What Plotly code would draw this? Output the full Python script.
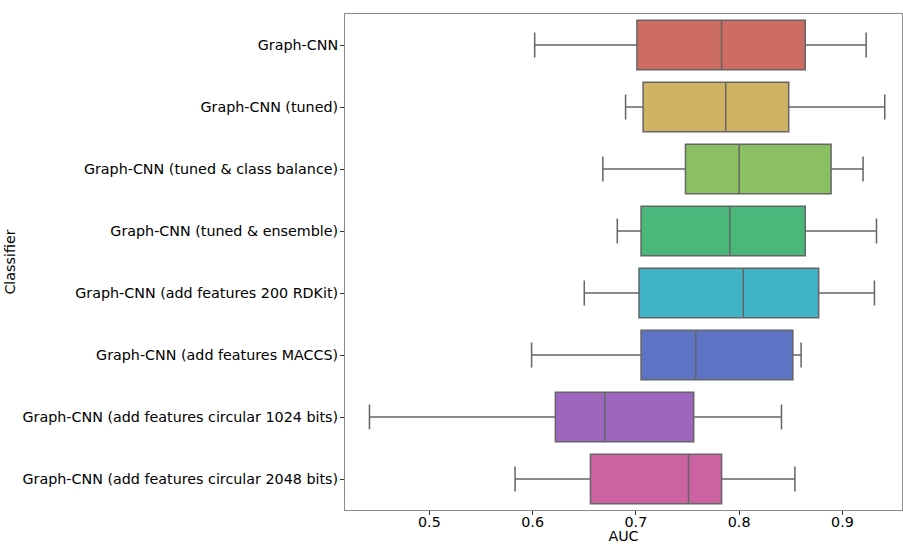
import plotly.graph_objects as go

categories = [
    "Graph-CNN",
    "Graph-CNN (tuned)",
    "Graph-CNN (tuned & class balance)",
    "Graph-CNN (tuned & ensemble)",
    "Graph-CNN (add features 200 RDKit)",
    "Graph-CNN (add features MACCS)",
    "Graph-CNN (add features circular 1024 bits)",
    "Graph-CNN (add features circular 2048 bits)",
]
lower_whisker = [0.602, 0.690, 0.668, 0.682, 0.650, 0.599, 0.442, 0.583]
q1_values     = [0.701, 0.707, 0.748, 0.705, 0.703, 0.705, 0.622, 0.656]
median_values = [0.783, 0.787, 0.800, 0.791, 0.804, 0.758, 0.670, 0.751]
q3_values     = [0.864, 0.848, 0.889, 0.864, 0.877, 0.852, 0.756, 0.783]
upper_whisker = [0.923, 0.941, 0.920, 0.933, 0.931, 0.860, 0.841, 0.854]
x_ticks = [0.5, 0.6, 0.7, 0.8, 0.9]

colors = ["#cd6c62", "#d0b262", "#8bc062", "#4bb87b",
          "#3fb4c7", "#5d74c4", "#9d66bf", "#cc62a2"]

fig = go.Figure()
for i, cat in enumerate(categories):
    fig.add_trace(go.Box(
        y=[cat],
        q1=[q1_values[i]],
        median=[median_values[i]],
        q3=[q3_values[i]],
        lowerfence=[lower_whisker[i]],
        upperfence=[upper_whisker[i]],
        orientation="h",
        width=0.8,
        whiskerwidth=0.5,
        fillcolor=colors[i],
        line=dict(color="#656565", width=1.5),
        showlegend=False,
        hoverinfo="x",
    ))

font = "DejaVu Sans, Arial, sans-serif"
fig.update_layout(
    width=903, height=544,
    margin=dict(l=345, r=1, t=14, b=34),
    paper_bgcolor="white", plot_bgcolor="white",
    boxmode="overlay",
    font=dict(family=font, size=14.3, color="#000000"),
    xaxis=dict(
        range=[0.4183, 0.9577],
        tickvals=x_ticks,
        ticktext=[str(v) for v in x_ticks],
        showgrid=False, zeroline=False, automargin=False,
        showline=True, mirror=True, linecolor="#8a8a8a", linewidth=1,
        ticks="outside", ticklen=4, tickcolor="#333333",
        ticklabelstandoff=-5,
        title=dict(text="AUC", font=dict(size=14.3), standoff=4),
    ),
    yaxis=dict(
        categoryorder="array", categoryarray=categories,
        range=[len(categories) - 0.5, -0.5], automargin=False,
        showgrid=False, zeroline=False,
        showline=True, mirror=True, linecolor="#8a8a8a", linewidth=1,
        ticks="outside", ticklen=4, tickcolor="#333333",
        ticklabelstandoff=-1,
        title=dict(text="Classifier", font=dict(size=14.3), standoff=3),
    ),
)

fig.write_html(
    "out.html",
    config={"displayModeBar": False},
    post_script="document.body.style.margin='0px';document.body.style.overflow='hidden';",
)
